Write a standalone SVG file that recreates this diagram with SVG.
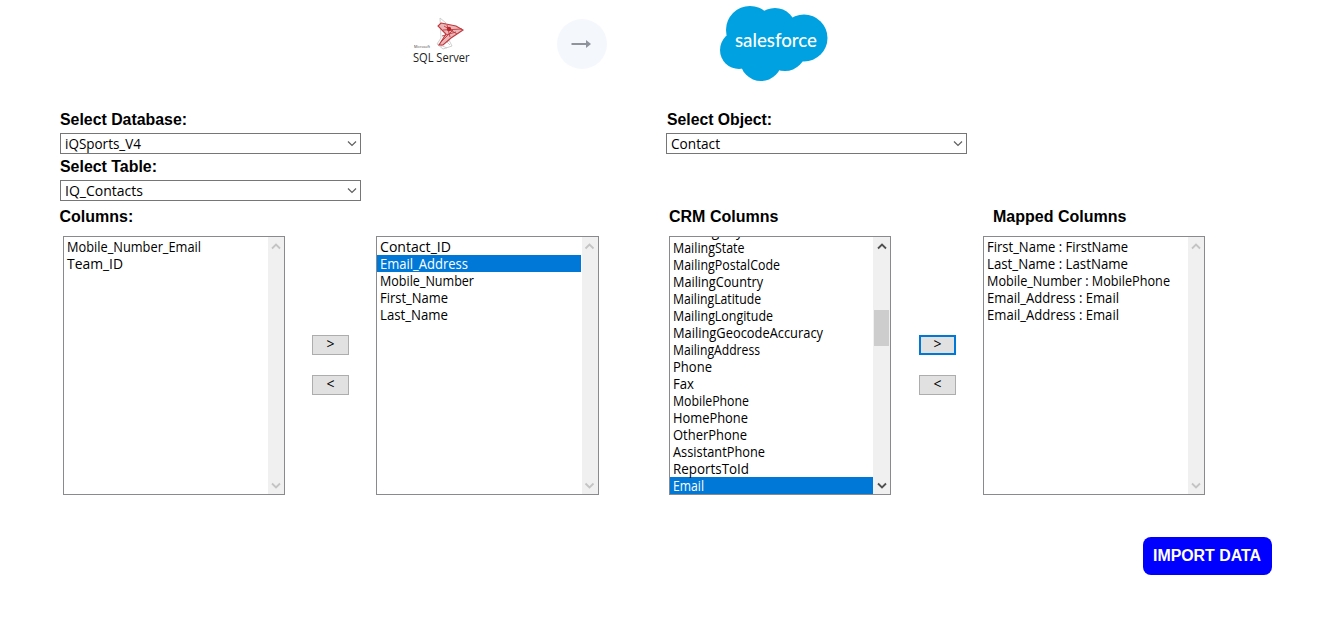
<svg xmlns="http://www.w3.org/2000/svg" width="1334" height="632" viewBox="0 0 1334 632">
<style>
text{font-family:"Open Sans","Noto Sans","Liberation Sans",sans-serif;font-size:14px;fill:#000;letter-spacing:0}
.lb{font-family:"Liberation Sans",Arial,sans-serif;font-size:16px;font-weight:700}
.sel{fill:#fff;stroke:#767676;stroke-width:1}
.box{fill:#fff;stroke:#8a8a8e;stroke-width:1}
.track{fill:#f0f0f0}
.chev{fill:none;stroke:#606060;stroke-width:1.2}
.sa{fill:none;stroke:#c4c4c4;stroke-width:1.8}
.sad{fill:none;stroke:#505050;stroke-width:1.8}
.btn{fill:#e1e1e1;stroke:#adadad;stroke-width:1}
.hl{fill:#0078d7}
</style>
<defs>
<path id="up" d="M-4 2.5L0-1.5L4 2.5"/>
<path id="down" d="M-4-2.5L0 1.5L4-2.5"/>
<clipPath id="crmclip"><rect x="670" y="237" width="203" height="257"/></clipPath>
</defs>
<rect width="1334" height="632" fill="#fff"/>

<g id="logo-sql">
<g fill="none" stroke="#c4c4c4" stroke-width="0.8">
<path d="M440 18L446 23L440 28L446 35L450 42L452 46L443 49L437 44L441 38Z"/>
<path d="M438 44L447 48M443 38L450 45M441 41L449 41M444 36L441 47"/>
</g>
<path d="M441 23L456 26L463 30L451 38L443 45L439 45L446 34L438 26Z" fill="#e9b7b8" stroke="#c0373c" stroke-width="1.100"/>
<path d="M443 30L462 29M442 36L456 32M447 25L450 37M444 26L457 34M441 42L453 30" stroke="#c0373c" stroke-width="0.900" fill="none"/>
<circle cx="449" cy="29" r="2.200" fill="#b8262c"/>
<text x="414" y="47.500" style="font-size:4px;fill:#444" textLength="16" lengthAdjust="spacingAndGlyphs">Microsoft</text>
<text x="413" y="62" style="font-size:12px;fill:#222" textLength="56.500" lengthAdjust="spacingAndGlyphs">SQL Server</text>
</g>

<g id="arrow-badge">
<circle cx="582" cy="44" r="25" fill="#f4f7fc"/>
<path d="M571.500 44H588" stroke="#8f939c" stroke-width="2" fill="none"/>
<path d="M586 40L591 44L586 48Z" fill="#8f939c"/>
</g>

<g id="logo-salesforce">
<g fill="#00a1e0">
<circle cx="750" cy="30" r="24"/>
<circle cx="775" cy="29" r="21"/>
<circle cx="804" cy="38" r="23.500"/>
<circle cx="739" cy="50" r="19"/>
<circle cx="761" cy="60" r="21"/>
<circle cx="785" cy="50" r="21"/>
</g>
<text x="735" y="46.500" style="font-family:'Lato','Liberation Sans',sans-serif;font-size:19px;font-weight:500;fill:#fff" textLength="82" lengthAdjust="spacingAndGlyphs">salesforce</text>
</g>

<g id="select-database">
<text class="lb" x="60" y="124.500" textLength="127" lengthAdjust="spacingAndGlyphs">Select Database:</text>
<rect class="sel" x="60.500" y="133.500" width="300" height="20"/>
<text x="65" y="148.500" textLength="76" lengthAdjust="spacingAndGlyphs">iQSports_V4</text>
<path class="chev" d="M348 141.500L352 145.500L356 141.500"/>
</g>
<g id="select-table">
<text class="lb" x="60" y="171.500" textLength="97" lengthAdjust="spacingAndGlyphs">Select Table:</text>
<rect class="sel" x="60.500" y="180.500" width="300" height="20"/>
<text x="65" y="195.500" textLength="78" lengthAdjust="spacingAndGlyphs">IQ_Contacts</text>
<path class="chev" d="M348 188.500L352 192.500L356 188.500"/>
</g>
<g id="select-object">
<text class="lb" x="667" y="124.500" textLength="105" lengthAdjust="spacingAndGlyphs">Select Object:</text>
<rect class="sel" x="666.500" y="133.500" width="300" height="20"/>
<text x="671" y="148.500" textLength="49" lengthAdjust="spacingAndGlyphs">Contact</text>
<path class="chev" d="M954 141.500L958 145.500L962 141.500"/>
</g>

<g id="list-columns">
<text class="lb" x="59.500" y="221.500">Columns:</text>
<rect class="box" x="63.500" y="236.500" width="221" height="258"/>
<rect class="track" x="268" y="237" width="16" height="257"/>
<use href="#up" class="sa" x="276" y="246"/>
<use href="#down" class="sa" x="276" y="486"/>
<text x="67" y="252" textLength="134" lengthAdjust="spacingAndGlyphs">Mobile_Number_Email</text>
<text x="67" y="269" textLength="56" lengthAdjust="spacingAndGlyphs">Team_ID</text>
</g>

<g id="btn-add-left">
<rect class="btn" x="312.500" y="335.500" width="36" height="19"/>
<text x="330.500" y="349" text-anchor="middle">&gt;</text>
</g>
<g id="btn-remove-left">
<rect class="btn" x="312.500" y="375.500" width="36" height="19"/>
<text x="330.500" y="389" text-anchor="middle">&lt;</text>
</g>

<g id="list-source">
<rect class="box" x="376.500" y="236.500" width="222" height="258"/>
<rect class="track" x="582" y="237" width="16" height="257"/>
<use href="#up" class="sa" x="589.500" y="246"/>
<use href="#down" class="sa" x="589.500" y="486"/>
<rect class="hl" x="377" y="255" width="204" height="17"/>
<text x="380" y="252" textLength="71" lengthAdjust="spacingAndGlyphs">Contact_ID</text>
<text x="380" y="269" textLength="88" lengthAdjust="spacingAndGlyphs" style="fill:#fff">Email_Address</text>
<text x="380" y="286" textLength="94" lengthAdjust="spacingAndGlyphs">Mobile_Number</text>
<text x="380" y="303" textLength="68" lengthAdjust="spacingAndGlyphs">First_Name</text>
<text x="380" y="320" textLength="68" lengthAdjust="spacingAndGlyphs">Last_Name</text>
</g>

<g id="list-crm">
<text class="lb" x="669" y="221.500">CRM Columns</text>
<rect class="box" x="669.500" y="236.500" width="221" height="258"/>
<rect class="track" x="873" y="237" width="17" height="257"/>
<rect x="874" y="310" width="15" height="36" fill="#cdcdcd"/>
<use href="#up" class="sad" x="882" y="246"/>
<use href="#down" class="sad" x="882" y="486"/>
<rect class="hl" x="670" y="477" width="203" height="17"/>
<text x="673" y="236" clip-path="url(#crmclip)" textLength="70" lengthAdjust="spacingAndGlyphs">MailingCity</text>
<text x="673" y="253" textLength="71.500" lengthAdjust="spacingAndGlyphs">MailingState</text>
<text x="673" y="270" textLength="107" lengthAdjust="spacingAndGlyphs">MailingPostalCode</text>
<text x="673" y="287" textLength="90" lengthAdjust="spacingAndGlyphs">MailingCountry</text>
<text x="673" y="304" textLength="88" lengthAdjust="spacingAndGlyphs">MailingLatitude</text>
<text x="673" y="321" textLength="100" lengthAdjust="spacingAndGlyphs">MailingLongitude</text>
<text x="673" y="338" textLength="150" lengthAdjust="spacingAndGlyphs">MailingGeocodeAccuracy</text>
<text x="673" y="355" textLength="87" lengthAdjust="spacingAndGlyphs">MailingAddress</text>
<text x="673" y="372" textLength="39" lengthAdjust="spacingAndGlyphs">Phone</text>
<text x="673" y="389" textLength="21" lengthAdjust="spacingAndGlyphs">Fax</text>
<text x="673" y="406" textLength="76" lengthAdjust="spacingAndGlyphs">MobilePhone</text>
<text x="673" y="423" textLength="75" lengthAdjust="spacingAndGlyphs">HomePhone</text>
<text x="673" y="440" textLength="74" lengthAdjust="spacingAndGlyphs">OtherPhone</text>
<text x="673" y="457" textLength="92" lengthAdjust="spacingAndGlyphs">AssistantPhone</text>
<text x="673" y="474" textLength="76" lengthAdjust="spacingAndGlyphs">ReportsToId</text>
<text x="673" y="491" textLength="31" lengthAdjust="spacingAndGlyphs" style="fill:#fff">Email</text>
</g>

<g id="btn-add-right">
<rect x="920" y="336" width="35" height="18" fill="#e1e1e1" stroke="#0078d7" stroke-width="2"/>
<text x="937.500" y="349" text-anchor="middle">&gt;</text>
</g>
<g id="btn-remove-right">
<rect class="btn" x="919.500" y="375.500" width="36" height="19"/>
<text x="937.500" y="389" text-anchor="middle">&lt;</text>
</g>

<g id="list-mapped">
<text class="lb" x="993" y="221.500">Mapped Columns</text>
<rect class="box" x="983.500" y="236.500" width="221" height="258"/>
<rect class="track" x="1188" y="237" width="16" height="257"/>
<use href="#up" class="sa" x="1196" y="246"/>
<use href="#down" class="sa" x="1196" y="486"/>
<text x="987" y="252" textLength="141" lengthAdjust="spacingAndGlyphs">First_Name : FirstName</text>
<text x="987" y="269" textLength="141" lengthAdjust="spacingAndGlyphs">Last_Name : LastName</text>
<text x="987" y="286" textLength="183" lengthAdjust="spacingAndGlyphs">Mobile_Number : MobilePhone</text>
<text x="987" y="303" textLength="132" lengthAdjust="spacingAndGlyphs">Email_Address : Email</text>
<text x="987" y="320" textLength="132" lengthAdjust="spacingAndGlyphs">Email_Address : Email</text>
</g>

<g id="btn-import">
<rect x="1143" y="537" width="129" height="38" rx="8" fill="#0000ff"/>
<text x="1207" y="561" text-anchor="middle" style="font-family:'Liberation Sans',Arial,sans-serif;font-size:16px;font-weight:700;fill:#fff" textLength="108" lengthAdjust="spacingAndGlyphs">IMPORT DATA</text>
</g>
</svg>
